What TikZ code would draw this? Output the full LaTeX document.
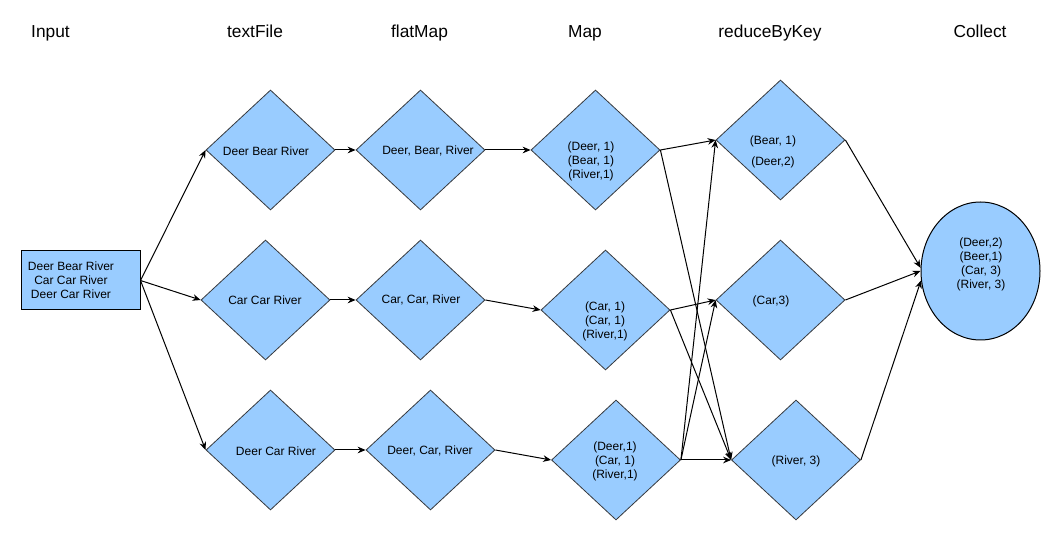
\documentclass[tikz,border=0pt]{standalone}
\usepackage{fontspec}
\setmainfont{Liberation Sans}
\usetikzlibrary{shapes.geometric,arrows.meta}
\definecolor{boxblue}{HTML}{99CCFF}
\definecolor{edgegray}{HTML}{36393D}
\tikzset{
  dia/.style={diamond, draw=edgegray, fill=boxblue, line width=0.6pt, inner sep=0pt,
    minimum width=96.75pt, minimum height=90pt},
  txt/.style={align=center, inner sep=0pt, font=\fontsize{9}{10.5}\selectfont},
  hdr/.style={inner sep=0pt, anchor=base, font=\fontsize{13}{15}\selectfont},
  arr/.style={draw=black, line width=0.75pt, -{Stealth[length=6pt,width=5pt]}},
}
\begin{document}
\begin{tikzpicture}[x=0.75pt,y=-0.75pt]
\useasboundingbox[fill=white] (0,0) rectangle (1061,541);
% headers
\node[hdr] (h1) at (50.5,37.5) {Input};
\node[hdr] (h2) at (255,37.5) {textFile};
\node[hdr] (h3) at (419.5,37.5) {flatMap};
\node[hdr] (h4) at (585,37.5) {Map};
\node[hdr] (h5) at (770,37.5) {reduceByKey};
\node[hdr] (h6) at (980,37.5) {Collect};
% input
\node[rectangle, draw=black, fill=boxblue, line width=0.75pt, minimum width=89.25pt, minimum height=44.25pt] (in) at (80.5,280.5) {};
\node[txt] (intx) at (71,280.5) {Deer Bear River\\Car Car River\\Deer Car River};
% textFile
\node[dia] (tf1) at (270.5,150) {};
\node[dia] (tf2) at (265.5,300) {};
\node[dia] (tf3) at (270.5,450) {};
\node[txt] (tf1t) at (266,151) {Deer Bear River};
\node[txt] (tf2t) at (265,300) {Car Car River};
\node[txt] (tf3t) at (276,451) {Deer Car River};
% flatMap
\node[dia] (fm1) at (420.5,150) {};
\node[dia] (fm2) at (420.5,300) {};
\node[dia] (fm3) at (430.5,450) {};
\node[txt] (fm1t) at (428,151) {Deer, Bear, River};
\node[txt] (fm2t) at (421,300) {Car, Car, River};
\node[txt] (fm3t) at (430,451) {Deer, Car, River};
% Map
\node[dia] (mp1) at (595.5,150) {};
\node[dia] (mp2) at (605.5,310) {};
\node[dia] (mp3) at (616,460) {};
\node[txt] (mp1t) at (591,161) {(Deer, 1)\\(Bear, 1)\\(River,1)};
\node[txt] (mp2t) at (605,321) {(Car, 1)\\(Car, 1)\\(River,1)};
\node[txt] (mp3t) at (615,461) {(Deer,1)\\(Car, 1)\\(River,1)};
% reduceByKey
\node[dia] (rd1) at (780.5,140) {};
\node[dia] (rd2) at (780.5,300) {};
\node[dia] (rd3) at (796,460) {};
\node[txt] (rd1t) at (773,151.5) {(Bear, 1)\\[5.25pt](Deer,2)};
\node[txt] (rd2t) at (771,301) {(Car,3)};
\node[txt] (rd3t) at (796,461) {(River, 3)};
% Collect
\node[ellipse, draw=black, fill=boxblue, line width=0.75pt, inner sep=0pt, minimum width=89.25pt, minimum height=103.5pt] (col) at (980.5,271) {};
\node[txt] (colt) at (981,264) {(Deer,2)\\(Beer,1)\\(Car, 3)\\(River, 3)};
% connectors
\draw[arr] (in.east) -- (tf1.west);
\draw[arr] (in.east) -- (tf2.west);
\draw[arr] (in.east) -- (tf3.west);
\draw[arr] (tf1.east) -- (fm1.west);
\draw[arr] (tf2.east) -- (fm2.west);
\draw[arr] (tf3.east) -- (fm3.west);
\draw[arr] (fm1.east) -- (mp1.west);
\draw[arr] (fm2.east) -- (mp2.west);
\draw[arr] (fm3.east) -- (mp3.west);
\draw[arr] (mp1.east) -- (rd1.west);
\draw[arr] (mp1.east) -- (rd3.west);
\draw[arr] (mp2.east) -- (rd2.west);
\draw[arr] (mp2.east) -- (rd3.west);
\draw[arr] (mp3.east) -- (rd1.west);
\draw[arr] (mp3.east) -- (rd2.west);
\draw[arr] (mp3.east) -- (rd3.west);
\draw[arr] (rd1.east) -- (col.177);
\draw[arr] (rd2.east) -- (col.180);
\draw[arr] (rd3.east) -- (col.189);
\end{tikzpicture}
\end{document}
